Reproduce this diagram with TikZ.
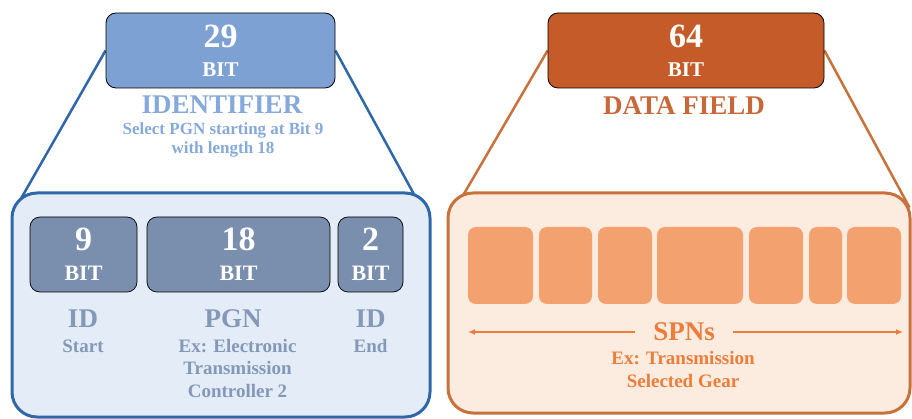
\documentclass[tikz,border=0pt]{standalone}
\usepackage{fontspec}
\setmainfont{Liberation Serif}
\usetikzlibrary{arrows.meta,positioning,backgrounds}

\definecolor{idblue}{HTML}{7EA1D3}
\definecolor{idline}{HTML}{2F68A9}
\definecolor{idfill}{HTML}{E3ECF7}
\definecolor{idcell}{HTML}{7A8EAD}
\definecolor{idtext}{HTML}{8499B8}
\definecolor{idlight}{HTML}{86A9DC}
\definecolor{dfbrown}{HTML}{C45B28}
\definecolor{dfline}{HTML}{C9713A}
\definecolor{dffill}{HTML}{FCEBDF}
\definecolor{dfcell}{HTML}{F3A16E}
\definecolor{dftext}{HTML}{ED7D3B}
\definecolor{dfhead}{HTML}{C8683A}

\begin{document}
\begin{tikzpicture}[x=1pt, y=-1pt,
  head/.style={draw=black, line width=0.8pt, rounded corners=10pt, inner sep=0pt, text=white, align=center, font=\bfseries\fontsize{21}{29}\selectfont},
  bigframe/.style={line width=3pt, rounded corners=25pt, inner sep=0pt},
  idcellbox/.style={draw=black, line width=0.7pt, fill=idcell, rounded corners=10pt, text=white, align=center, minimum height=75pt, inner sep=0pt, font=\bfseries\fontsize{22}{30}\selectfont},
  dfcellbox/.style={fill=dfcell, rounded corners=8pt, minimum height=77pt, inner sep=0pt},
  ttl/.style={font=\bfseries\fontsize{27}{27}\selectfont, inner sep=0pt},
  sub/.style={font=\bfseries\fontsize{19}{22.5}\selectfont, align=center, inner sep=0pt},
  fan/.style={line width=2.5pt},
  arrow/.style={{Latex[length=7pt,width=6pt]}-, line width=1.8pt, draw=dftext}
]
\useasboundingbox (0,0) rectangle (912,419);

% identifier side
\node[head, fill=idblue, minimum width=229pt, minimum height=75pt] (idtop) at (220.5,50.5) {{\fontsize{34}{34}\selectfont 29}\\BIT};
\node[ttl, text=idlight] (idttl) at (222,105) {IDENTIFIER};
\node[sub, text=idlight, font=\bfseries\fontsize{17}{19}\selectfont] (idsub) at (223,140) {Select PGN starting at Bit 9\\with length 18};
\node[bigframe, draw=idline, fill=idfill, minimum width=418pt, minimum height=224pt] (idframe) at (221,305) {};
\node[idcellbox, minimum width=107pt] (idstart) at (83.5,254.5) {{\fontsize{34}{34}\selectfont 9}\\BIT};
\node[idcellbox, minimum width=183pt] (idpgn) at (238.5,254.5) {{\fontsize{34}{34}\selectfont 18}\\BIT};
\node[idcellbox, minimum width=65pt] (idend) at (370.5,254.5) {{\fontsize{34}{34}\selectfont 2}\\BIT};
\node[ttl, text=idtext, anchor=base] (idstartttl) at (83,327) {ID};
\node[sub, text=idtext, anchor=base] (idstartsub) at (83,352) {Start};
\node[ttl, text=idtext, anchor=base] (idpgnttl) at (233,327) {PGN};
\node[sub, text=idtext, anchor=base] (idpgnsub) at (237.5,397) {Ex: Electronic\\Transmission\\Controller 2};
\node[ttl, text=idtext, anchor=base] (idendttl) at (370.5,327) {ID};
\node[sub, text=idtext, anchor=base] (idendsub) at (370.5,352) {End};

% data field side
\node[head, fill=dfbrown, minimum width=276pt, minimum height=75pt] (dftop) at (686,50.5) {{\fontsize{34}{34}\selectfont 64}\\BIT};
\node[ttl, text=dfhead] (dfttl) at (684,106) {DATA FIELD};
\node[bigframe, draw=dfline, fill=dffill, minimum width=462pt, minimum height=220pt] (dfframe) at (679,303) {};
\foreach \n/\cx/\w in {1/500.5/65, 2/565.5/53, 3/625/54, 4/700/86, 5/776/54, 6/825.5/33, 7/874/54}
  \node[dfcellbox, minimum width=\w pt] (spn\n) at (\cx,265.5) {};
\node[ttl, text=dftext, inner xsep=18pt] (spns) at (684,332) {SPNs};
\coordinate (spnl) at (468,332);
\coordinate (spnr) at (903,332);
\draw[arrow] (spnl) -- (spns.west);
\draw[arrow] (spnr) -- (spns.east);
\node[sub, text=dftext, anchor=base] (spnsub) at (683,387.3) {Ex: Transmission\\Selected Gear};

% fan lines behind the frames
\begin{scope}[on background layer]
  \draw[fan, idline] (idtop.west) -- ([shift={(2pt,-22pt)}]idframe.north west);
  \draw[fan, idline] (idtop.east) -- ([shift={(-7pt,-22pt)}]idframe.north east);
  \draw[fan, dfline] (dftop.west) -- ([shift={(6pt,-22pt)}]dfframe.north west);
  \draw[fan, dfline] (dftop.east) -- ([shift={(-2pt,-16pt)}]dfframe.north east);
\end{scope}
\end{tikzpicture}
\end{document}
